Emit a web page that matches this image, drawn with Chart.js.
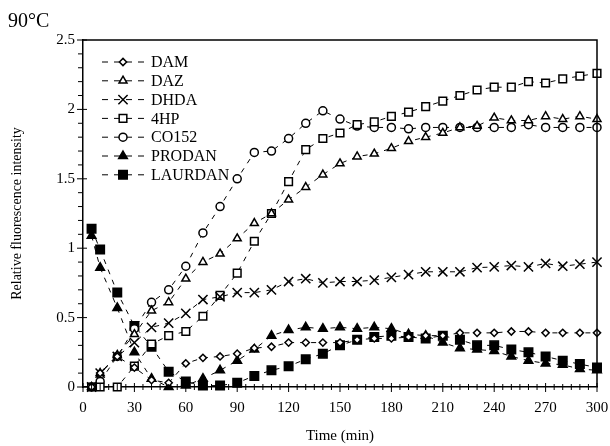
<!DOCTYPE html>
<html>
<head>
<meta charset="utf-8">
<script src="https://cdn.jsdelivr.net/npm/chart.js@4/dist/chart.umd.min.js"></script>
<style>
  html, body { margin: 0; padding: 0; background: #fff; }
  #wrap { width: 610px; height: 446px; }
</style>
</head>
<body>
<div id="wrap"><canvas id="fluoChart" width="610" height="446"></canvas></div>
<script>
// sampling times (min)
const times = [5, 10, 20, 30, 40, 50, 60, 70, 80, 90, 100, 110, 120, 130, 140, 150,
               160, 170, 180, 190, 200, 210, 220, 230, 240, 250, 260, 270, 280, 290, 300];

// relative fluorescence intensity
const dam     = [0, 0.10, 0.22, 0.14, 0.05, 0.03, 0.17, 0.21, 0.22, 0.24, 0.28, 0.29, 0.32, 0.32, 0.32, 0.32,
                 0.34, 0.35, 0.35, 0.36, 0.37, 0.37, 0.39, 0.39, 0.39, 0.40, 0.40, 0.39, 0.39, 0.39, 0.39];
const daz     = [0, 0.10, 0.23, 0.38, 0.55, 0.61, 0.78, 0.90, 0.96, 1.07, 1.18, 1.25, 1.35, 1.44, 1.53, 1.61,
                 1.66, 1.68, 1.72, 1.77, 1.80, 1.83, 1.87, 1.88, 1.94, 1.92, 1.92, 1.95, 1.93, 1.95, 1.93];
const dhda    = [0, 0.10, 0.22, 0.32, 0.43, 0.46, 0.53, 0.63, 0.65, 0.68, 0.68, 0.70, 0.76, 0.78, 0.75, 0.76,
                 0.76, 0.77, 0.79, 0.81, 0.83, 0.83, 0.83, 0.86, 0.865, 0.875, 0.865, 0.89, 0.87, 0.885, 0.90];
const hp4     = [0, 0, 0, 0.15, 0.31, 0.37, 0.40, 0.51, 0.66, 0.82, 1.05, 1.25, 1.48, 1.71, 1.79, 1.83,
                 1.89, 1.91, 1.95, 1.98, 2.02, 2.06, 2.10, 2.14, 2.16, 2.16, 2.20, 2.19, 2.22, 2.24, 2.26];
const co152   = [0, 0.04, 0.22, 0.42, 0.61, 0.70, 0.87, 1.11, 1.30, 1.50, 1.69, 1.70, 1.79, 1.90, 1.99, 1.93,
                 1.88, 1.87, 1.87, 1.86, 1.87, 1.87, 1.87, 1.87, 1.87, 1.87, 1.89, 1.87, 1.87, 1.87, 1.87];
const prodan  = [1.09, 0.86, 0.57, 0.25, 0.06, 0.0, 0.01, 0.06, 0.12, 0.19, 0.27, 0.37, 0.41, 0.43, 0.42, 0.43,
                 0.42, 0.43, 0.42, 0.38, 0.37, 0.32, 0.28, 0.27, 0.26, 0.22, 0.19, 0.17, 0.16, 0.13, 0.12];
const laurdan = [1.14, 0.99, 0.68, 0.44, 0.29, 0.11, 0.04, 0.01, 0.01, 0.03, 0.08, 0.12, 0.15, 0.20, 0.24, 0.30,
                 0.34, 0.36, 0.37, 0.36, 0.35, 0.37, 0.34, 0.30, 0.30, 0.27, 0.25, 0.22, 0.19, 0.165, 0.14];

const seriesNames = ['DAM', 'DAZ', 'DHDA', '4HP', 'CO152', 'PRODAN', 'LAURDAN'];
const seriesValues = [dam, daz, dhda, hp4, co152, prodan, laurdan];

const xTicks = [0, 30, 60, 90, 120, 150, 180, 210, 240, 270, 300];
const yTicks = [0, 0.5, 1, 1.5, 2, 2.5];

const SERIF = "'Liberation Serif', 'Times New Roman', serif";

// marker look per series
const markers = [
  { style: 'rectRot',  radius: 3.6, fill: '#fff' },
  { style: 'triangle', radius: 4.6, fill: '#fff' },
  { style: 'crossRot', radius: 6.5, fill: '#fff' },
  { style: 'rect',     radius: 5.4, fill: '#fff' },
  { style: 'circle',   radius: 4.0, fill: '#fff' },
  { style: 'triangle', radius: 5.0, fill: '#000' },
  { style: 'rect',     radius: 6.0, fill: '#000' },
];

function pairs(vals) {
  return times.map((t, i) => ({ x: t, y: vals[i] }));
}

const datasets = seriesNames.map((name, i) => ({
  label: name,
  data: pairs(seriesValues[i]),
  borderColor: '#000',
  borderWidth: 1,
  borderDash: [5, 6],
  pointStyle: markers[i].style,
  pointRadius: markers[i].radius,
  pointBackgroundColor: markers[i].fill,
  pointBorderColor: '#000',
  pointBorderWidth: 1.5,
  tension: 0,
  clip: false,
}));

// minor/major tick marks that cross the axes, plus the top and right frame
const frameTicks = {
  id: 'frameTicks',
  afterDraw(chart) {
    const ctx = chart.ctx;
    const a = chart.chartArea;
    const xs = chart.scales.x, ys = chart.scales.y;
    ctx.save();
    ctx.strokeStyle = '#000';
    ctx.lineWidth = 1.5;
    ctx.beginPath();
    ctx.moveTo(a.left, a.top);
    ctx.lineTo(a.right, a.top);
    ctx.lineTo(a.right, a.bottom);
    ctx.stroke();

    ctx.lineWidth = 1;
    ctx.beginPath();
    for (let v = 0; v <= 300; v += 5) {
      const px = xs.getPixelForValue(v);
      const major = v % 30 === 0;
      ctx.moveTo(px, a.bottom - (major ? 4 : 3));
      ctx.lineTo(px, a.bottom + (major ? 5 : 3));
    }
    for (let k = 0; k <= 25; k++) {
      const py = ys.getPixelForValue(k / 10);
      const major = k % 5 === 0;
      ctx.moveTo(a.left - (major ? 6 : 5), py);
      ctx.lineTo(a.left + (major ? 4 : 0), py);
    }
    ctx.stroke();
    ctx.restore();
  }
};

// legend with dashed line sample and marker, inside the plot
const insideLegend = {
  id: 'insideLegend',
  afterDraw(chart) {
    const ctx = chart.ctx;
    const a = chart.chartArea;
    const x0 = a.left + 19;
    ctx.save();
    ctx.font = '16px ' + SERIF;
    ctx.textBaseline = 'middle';
    ctx.fillStyle = '#000';
    chart.data.datasets.forEach((ds, i) => {
      const y = a.top + 22 + i * 18.8;
      ctx.strokeStyle = '#000';
      ctx.lineWidth = 1;
      ctx.setLineDash([6, 6]);
      ctx.beginPath();
      ctx.moveTo(x0, y);
      ctx.lineTo(x0 + 42, y);
      ctx.stroke();
      ctx.setLineDash([]);
      ctx.fillStyle = ds.pointBackgroundColor;
      ctx.lineWidth = 1.5;
      Chart.helpers.drawPoint(ctx, {
        pointStyle: ds.pointStyle,
        radius: ds.pointRadius,
        rotation: 0,
        borderWidth: 1.5,
      }, x0 + 21, y);
      ctx.fillStyle = '#000';
      ctx.fillText(ds.label, x0 + 49, y + 1);
    });
    ctx.restore();
  }
};

new Chart(document.getElementById('fluoChart'), {
  type: 'line',
  data: { datasets: datasets },
  options: {
    responsive: false,
    animation: false,
    layout: { padding: { left: 8, right: 13, top: 0, bottom: 0 } },
    plugins: {
      legend: { display: false },
      tooltip: { enabled: false },
      title: {
        display: true,
        text: '90°C',
        align: 'start',
        color: '#000',
        font: { family: SERIF, size: 20, weight: 'normal' },
        padding: { top: 10, bottom: 6 },
      },
    },
    scales: {
      x: {
        type: 'linear',
        min: 0,
        max: 300,
        afterBuildTicks: s => { s.ticks = xTicks.map(v => ({ value: v })); },
        afterFit: s => { s.height = 59; s.paddingLeft = 0; s.paddingRight = 0; },
        grid: { display: true, drawOnChartArea: false, drawTicks: false },
        border: { display: true, color: '#000', width: 1.5 },
        ticks: { color: '#000', padding: 12, maxRotation: 0, font: { family: SERIF, size: 15 },
                 callback: v => String(v) },
        title: {
          display: true,
          text: 'Time (min)',
          color: '#000',
          font: { family: SERIF, size: 15 },
          padding: { top: 0, bottom: 1 },
        },
      },
      y: {
        type: 'linear',
        min: 0,
        max: 2.5,
        afterBuildTicks: s => { s.ticks = yTicks.map(v => ({ value: v })); },
        afterFit: s => { s.width = 75; },
        grid: { display: true, drawOnChartArea: false, drawTicks: false },
        border: { display: true, color: '#000', width: 1.5 },
        ticks: { color: '#000', padding: 8, font: { family: SERIF, size: 15 },
                 callback: v => String(v) },
        title: {
          display: true,
          text: 'Relative fluorescence intensity',
          color: '#000',
          font: { family: SERIF, size: 14 },
          padding: { top: 1, bottom: 0 },
        },
      },
    },
  },
  plugins: [frameTicks, insideLegend],
});
</script>
</body>
</html>
